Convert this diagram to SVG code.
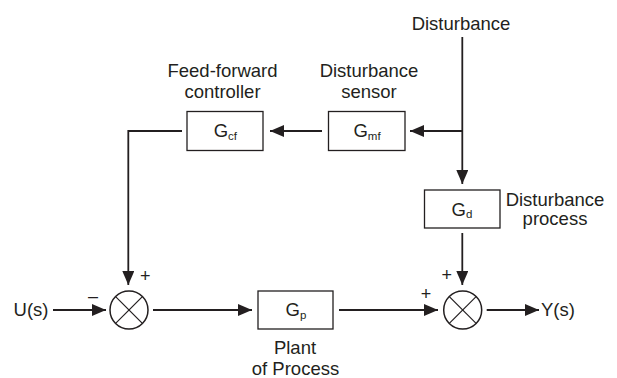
<svg xmlns="http://www.w3.org/2000/svg" width="617" height="378" viewBox="0 0 617 378">
<defs>
<style>
.t{font-family:"Liberation Sans",Arial,sans-serif;font-size:18.5px;fill:#231f20}
.g{font-family:"Liberation Sans",Arial,sans-serif;font-size:18.5px;fill:#231f20}
.s{font-size:11.5px}
.p{font-family:"Liberation Sans",Arial,sans-serif;font-size:18px;fill:#231f20}
.box{fill:#fff;stroke:#231f20;stroke-width:1.3}
.ln{fill:none;stroke:#231f20;stroke-width:1.8}
.sum{fill:#fff;stroke:#231f20;stroke-width:1.5}
.x{stroke:#231f20;stroke-width:1.2}
</style>
<marker id="ah" viewBox="0 0 14 12" refX="14" refY="6" markerWidth="14" markerHeight="12" markerUnits="userSpaceOnUse" orient="auto">
<path d="M0,0 L14,6 L0,12 Z" fill="#231f20"/>
</marker>
</defs>
<rect width="617" height="378" fill="#fff"/>
<g id="connectors">
<line class="ln" x1="462.3" y1="37" x2="462.3" y2="184" marker-end="url(#ah)"/>
<line class="ln" x1="462.3" y1="131" x2="410" y2="131" marker-end="url(#ah)"/>
<line class="ln" x1="322" y1="131" x2="270" y2="131" marker-end="url(#ah)"/>
<polyline class="ln" points="182,131 128.3,131 128.3,285" marker-end="url(#ah)"/>
<line class="ln" x1="53" y1="310" x2="106" y2="310" marker-end="url(#ah)"/>
<line class="ln" x1="153" y1="310" x2="252" y2="310" marker-end="url(#ah)"/>
<line class="ln" x1="339" y1="310" x2="438" y2="310" marker-end="url(#ah)"/>
<line class="ln" x1="462.3" y1="233" x2="462.3" y2="285" marker-end="url(#ah)"/>
<line class="ln" x1="486.7" y1="310" x2="539" y2="310" marker-end="url(#ah)"/>
</g>
<g id="disturbance-label"><text class="t" x="461" y="29.5" text-anchor="middle">Disturbance</text></g>
<g id="Gcf">
<rect class="box" x="187" y="111.5" width="76" height="39"/>
<text class="g" x="225.3" y="137.3" text-anchor="middle">G<tspan class="s" dy="2.5">cf</tspan></text>
<text class="t" x="222.5" y="77" text-anchor="middle">Feed-forward</text>
<text class="t" x="222.5" y="98.3" text-anchor="middle">controller</text>
</g>
<g id="Gmf">
<rect class="box" x="328.5" y="111.5" width="76.5" height="39"/>
<text class="g" x="367" y="137.3" text-anchor="middle">G<tspan class="s" dy="2.5">mf</tspan></text>
<text class="t" x="369" y="77" text-anchor="middle">Disturbance</text>
<text class="t" x="369" y="98.3" text-anchor="middle">sensor</text>
</g>
<g id="Gd">
<rect class="box" x="424.5" y="190" width="75.5" height="38"/>
<text class="g" x="462" y="215.5" text-anchor="middle">G<tspan class="s" dy="2.5">d</tspan></text>
<text class="t" x="555" y="205.5" text-anchor="middle">Disturbance</text>
<text class="t" x="555" y="224.5" text-anchor="middle">process</text>
</g>
<g id="Gp">
<rect class="box" x="258" y="291" width="75" height="38"/>
<text class="g" x="296" y="316" text-anchor="middle">G<tspan class="s" dy="2.5">p</tspan></text>
<text class="t" x="295" y="354" text-anchor="middle">Plant</text>
<text class="t" x="295.5" y="374.5" text-anchor="middle">of Process</text>
</g>
<g id="sum1">
<circle class="sum" cx="129" cy="310" r="19"/>
<line class="x" x1="115.6" y1="296.6" x2="142.4" y2="323.4"/>
<line class="x" x1="142.4" y1="296.6" x2="115.6" y2="323.4"/>
<text class="p" x="145.3" y="282.4" text-anchor="middle">+</text>
<text class="p" x="93" y="302" text-anchor="middle">–</text>
</g>
<g id="sum2">
<circle class="sum" cx="462.7" cy="310" r="19"/>
<line class="x" x1="449.3" y1="296.6" x2="476.1" y2="323.4"/>
<line class="x" x1="476.1" y1="296.6" x2="449.3" y2="323.4"/>
<text class="p" x="446.7" y="281" text-anchor="middle">+</text>
<text class="p" x="426" y="300.2" text-anchor="middle">+</text>
</g>
<g id="input"><text class="t" x="31" y="316" text-anchor="middle">U(s)</text></g>
<g id="output"><text class="t" x="541" y="316">Y(s)</text></g>
</svg>
